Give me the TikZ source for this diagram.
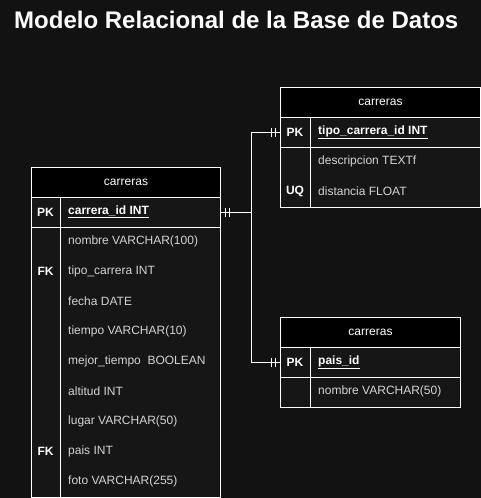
\documentclass[tikz,border=0pt]{standalone}
\usepackage{fontspec}
\setmainfont{Liberation Sans}
\usetikzlibrary{decorations.markings}
\definecolor{bg}{HTML}{121212}
\definecolor{bodyfill}{HTML}{161616}
\definecolor{fieldcol}{HTML}{D4D4D4}
\begin{document}
\begin{tikzpicture}[x=1pt,y=-1pt,
  tbl/.style={draw=white, line width=1pt},
  hdr/.style={tbl, fill=black, anchor=north west, minimum height=30, inner sep=0, text=white, font=\fontsize{12}{14}\selectfont},
  cell/.style={tbl, fill=bodyfill, anchor=north west, inner sep=0},
  keytxt/.style={text=white, font=\bfseries\fontsize{12}{14}\selectfont, inner sep=0},
  fieldtxt/.style={text=fieldcol, font=\fontsize{12}{14}\selectfont, anchor=west, inner sep=0},
  pktxt/.style={fieldtxt, text=white, font=\bfseries\fontsize{12}{14}\selectfont},
  conn/.style={draw=white, line width=1pt, postaction={decorate, decoration={markings,
    mark=at position 4.5pt with {\draw[white, line width=1pt] (0,-4.5pt) -- (0,4.5pt);},
    mark=at position 8.5pt with {\draw[white, line width=1pt] (0,-4.5pt) -- (0,4.5pt);},
    mark=at position -4.5pt with {\draw[white, line width=1pt] (0,-4.5pt) -- (0,4.5pt);},
    mark=at position -8.5pt with {\draw[white, line width=1pt] (0,-4.5pt) -- (0,4.5pt);}}}}
]
\fill[bg] (0,0) rectangle (481,498);
\useasboundingbox (0,0) rectangle (481,498);

% title
\node[anchor=base west, inner sep=0, text=white, font=\bfseries\fontsize{24}{28}\selectfont] (title) at (14,28.3) {Modelo Relacional de la Base de Datos};

% left table
\node[hdr, minimum width=189] (lhead) at (31,167) {carreras};
\node[cell, minimum width=189, minimum height=30] (lpk) at (31,197) {};
\node[cell, minimum width=189, minimum height=270] (lbody) at (31,227) {};
\draw[tbl] (60,197) -- (60,497);
\node[keytxt] (lk1) at (45.5,212) {PK};
\node[pktxt] (lf1) at (68,212) {\underline{carrera\_id INT}};
\node[fieldtxt] (lf2) at (68,241.5) {nombre VARCHAR(100)};
\node[keytxt] (lk2) at (45.5,271.5) {FK};
\node[fieldtxt] (lf3) at (68,271.5) {tipo\_carrera INT};
\node[fieldtxt] (lf4) at (68,301.5) {fecha DATE};
\node[fieldtxt] (lf5) at (68,331.5) {tiempo VARCHAR(10)};
\node[fieldtxt] (lf6) at (68,361.5) {mejor\_tiempo\ \ BOOLEAN};
\node[fieldtxt] (lf7) at (68,391.5) {altitud INT};
\node[fieldtxt] (lf8) at (68,421.5) {lugar VARCHAR(50)};
\node[keytxt] (lk3) at (45.5,451.5) {FK};
\node[fieldtxt] (lf9) at (68,451.5) {pais INT};
\node[fieldtxt] (lf10) at (68,481.5) {foto VARCHAR(255)};

% top right table
\node[hdr, minimum width=200] (thead) at (280,87) {carreras};
\node[cell, minimum width=200, minimum height=30] (tpk) at (280,117) {};
\node[cell, minimum width=200, minimum height=60] (tbody) at (280,147) {};
\draw[tbl] (310,117) -- (310,207);
\node[keytxt] (tk1) at (295,132) {PK};
\node[pktxt] (tf1) at (318,132) {\underline{tipo\_carrera\_id INT}};
\node[fieldtxt] (tf2) at (318,161.5) {descripcion TEXTf};
\node[keytxt] (tk2) at (295,191.5) {UQ};
\node[fieldtxt] (tf3) at (318,191.5) {distancia FLOAT};

% bottom right table
\node[hdr, minimum width=180] (bhead) at (280,317) {carreras};
\node[cell, minimum width=180, minimum height=30] (bpk) at (280,347) {};
\node[cell, minimum width=180, minimum height=30] (bbody) at (280,377) {};
\draw[tbl] (310,347) -- (310,407);
\node[keytxt] (bk1) at (295,362) {PK};
\node[pktxt] (bf1) at (318,362) {\underline{pais\_id}};
\node[fieldtxt] (bf2) at (318,391.5) {nombre VARCHAR(50)};

% connectors
\draw[conn] (lpk.east) -- ++(30,0) |- (tpk.west);
\draw[conn] (lpk.east) -- ++(30,0) |- (bpk.west);
\end{tikzpicture}
\end{document}
